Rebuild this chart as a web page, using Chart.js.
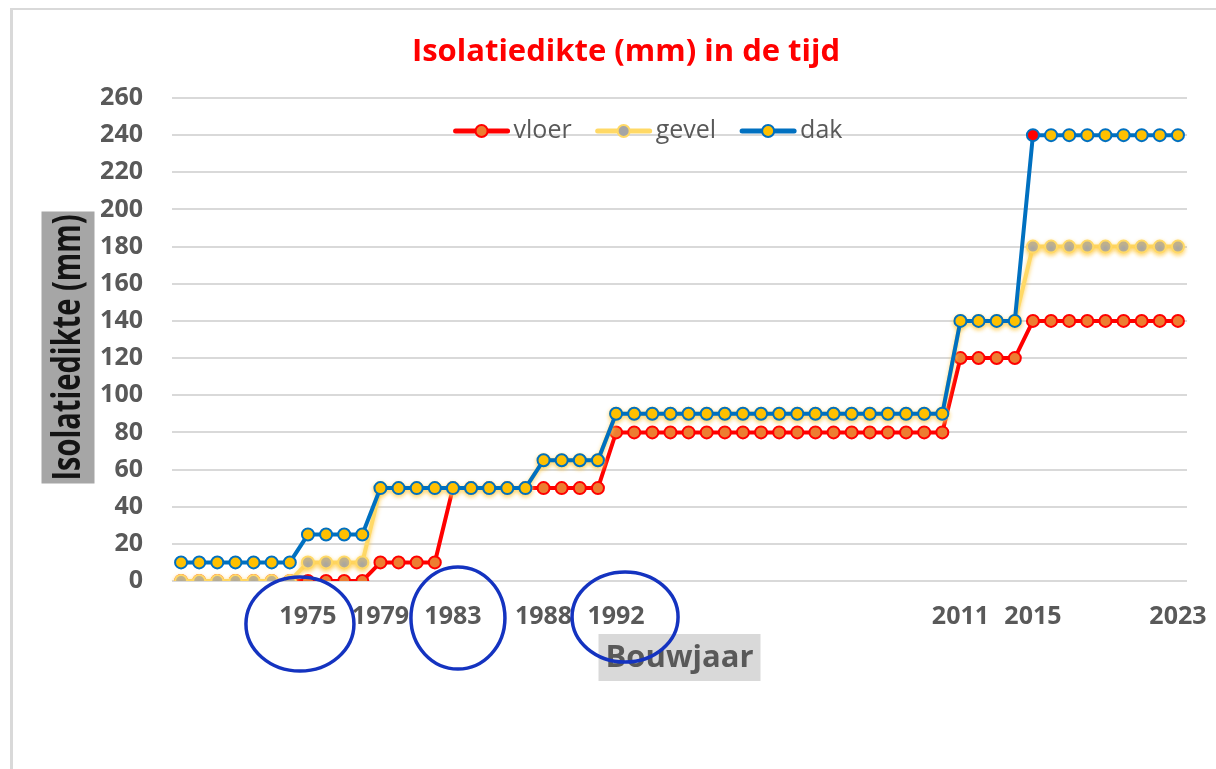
<!DOCTYPE html>
<html>
<head>
<meta charset="utf-8">
<title>Isolatiedikte (mm) in de tijd</title>
<script src="https://cdn.jsdelivr.net/npm/chart.js@4.4.1/dist/chart.umd.min.js"></script>
<style>
  html, body { margin: 0; padding: 0; background: #fff; overflow: hidden; }
  #frame { position: absolute; left: 10px; top: 8px; width: 1300px; height: 800px;
           border-left: 3px solid #d9d9d9; border-top: 2px solid #d9d9d9; }
  #c { position: absolute; left: 0; top: 0; }
</style>
</head>
<body>
<div id="frame"></div>
<canvas id="c" width="1216" height="769"></canvas>
<script>
// bouwjaar (categories)
const years = [
  1968, 1969, 1970, 1971, 1972, 1973, 1974, 1975, 1976, 1977,
  1978, 1979, 1980, 1981, 1982, 1983, 1984, 1985, 1986, 1987,
  1988, 1989, 1990, 1991, 1992, 1993, 1994, 1995, 1996, 1997,
  1998, 1999, 2000, 2001, 2002, 2003, 2004, 2005, 2006, 2007,
  2008, 2009, 2010, 2011, 2012, 2013, 2014, 2015, 2016, 2017,
  2018, 2019, 2020, 2021, 2022, 2023
];
// only these years get a label on the x axis
const tickYears = [1975, 1979, 1983, 1988, 1992, 2011, 2015, 2023];
const circledYears = [1975, 1983, 1992];

// isolatiedikte in mm
const vloer = [
  0, 0, 0, 0, 0, 0, 0, 0, 0, 0,
  0, 10, 10, 10, 10, 50, 50, 50, 50, 50,
  50, 50, 50, 50, 80, 80, 80, 80, 80, 80,
  80, 80, 80, 80, 80, 80, 80, 80, 80, 80,
  80, 80, 80, 120, 120, 120, 120, 140, 140, 140,
  140, 140, 140, 140, 140, 140
];
const gevel = [
  0, 0, 0, 0, 0, 0, 0, 10, 10, 10,
  10, 50, 50, 50, 50, 50, 50, 50, 50, 50,
  65, 65, 65, 65, 90, 90, 90, 90, 90, 90,
  90, 90, 90, 90, 90, 90, 90, 90, 90, 90,
  90, 90, 90, 140, 140, 140, 140, 180, 180, 180,
  180, 180, 180, 180, 180, 180
];
const dak = [
  10, 10, 10, 10, 10, 10, 10, 25, 25, 25,
  25, 50, 50, 50, 50, 50, 50, 50, 50, 50,
  65, 65, 65, 65, 90, 90, 90, 90, 90, 90,
  90, 90, 90, 90, 90, 90, 90, 90, 90, 90,
  90, 90, 90, 140, 140, 140, 140, 240, 240, 240,
  240, 240, 240, 240, 240, 240
];

const yTicks = { min: 0, max: 260, step: 20 };

const GREY_TXT = "#595959";

// titles, legend and the hand drawn circles
const decor = {
  id: "decor",
  beforeDatasetDraw(chart, args) {
    if (args.index === 1) {
      const ctx = chart.ctx;
      ctx.save();
      ctx.shadowColor = "rgba(255, 205, 80, 0.85)";
      ctx.shadowBlur = 4;
      ctx.shadowOffsetY = 2;
    }
  },
  afterDatasetDraw(chart, args) {
    if (args.index === 1) chart.ctx.restore();
  },
  afterDraw(chart) {
    const ctx = chart.ctx;
    const a = chart.chartArea;
    const xs = chart.scales.x;

    // chart title
    ctx.save();
    ctx.fillStyle = "#ff0000";
    ctx.font = "bold 31px 'Open Sans'";
    ctx.textAlign = "center";
    ctx.textBaseline = "alphabetic";
    ctx.fillText("Isolatiedikte (mm) in de tijd", 626, 61);
    ctx.restore();

    // y axis title with grey box (text squeezed, the original font is narrow)
    ctx.save();
    ctx.translate(68, (a.top + a.bottom) / 2 + 8);
    ctx.rotate(-Math.PI / 2);
    ctx.font = "bold 40px 'Open Sans'";
    const yt = "Isolatiedikte (mm)";
    const sq = 266 / ctx.measureText(yt).width;
    ctx.fillStyle = "#a6a6a6";
    ctx.fillRect(-136, -26.5, 272, 53);
    ctx.scale(sq, 1);
    ctx.fillStyle = "#141414";
    ctx.textAlign = "center";
    ctx.textBaseline = "middle";
    ctx.fillText(yt, 0, 1);
    ctx.restore();

    // x axis title with grey box
    ctx.save();
    const cx = (a.left + a.right) / 2;
    ctx.fillStyle = "#d9d9d9";
    ctx.fillRect(cx - 81, a.bottom + 53, 162, 47);
    ctx.fillStyle = GREY_TXT;
    ctx.font = "bold 31px 'Open Sans'";
    ctx.textAlign = "center";
    ctx.textBaseline = "middle";
    ctx.fillText("Bouwjaar", cx, a.bottom + 77);
    ctx.restore();

    // legend, inside the plot
    ctx.save();
    ctx.font = "25px 'Open Sans'";
    const lineLen = 56, gapTxt = 4, itemGap = 24;
    const items = chart.data.datasets.map(ds => ({ ds, tw: ctx.measureText(ds.label).width }));
    const total = items.reduce((s, it) => s + lineLen + gapTxt + it.tw, 0) + itemGap * (items.length - 1);
    let x = 648 - total / 2;
    const ly = 131;
    items.forEach(({ ds, tw }) => {
      ctx.strokeStyle = ds.borderColor;
      ctx.lineWidth = 5;
      ctx.lineCap = "round";
      ctx.beginPath();
      ctx.moveTo(x + 2, ly);
      ctx.lineTo(x + lineLen - 2, ly);
      ctx.stroke();
      ctx.beginPath();
      ctx.arc(x + lineLen / 2, ly, 6, 0, Math.PI * 2);
      ctx.fillStyle = ds.legendFill;
      ctx.fill();
      ctx.lineWidth = 2;
      ctx.strokeStyle = ds.pointBorderColor;
      ctx.stroke();
      ctx.fillStyle = GREY_TXT;
      ctx.textAlign = "left";
      ctx.textBaseline = "middle";
      ctx.fillText(ds.label, x + lineLen + gapTxt, ly);
      x += lineLen + gapTxt + tw + itemGap;
    });
    ctx.restore();

    // hand drawn blue circles round some years
    const rings = { 1975: [-8, 43, 54, 47], 1983: [5, 37, 47, 51], 1992: [9, 36, 53, 45] };
    ctx.save();
    ctx.strokeStyle = "#1433c0";
    ctx.lineWidth = 3.5;
    circledYears.forEach(yr => {
      const r = rings[yr];
      const px = xs.getPixelForValue(years.indexOf(yr));
      ctx.beginPath();
      ctx.ellipse(px + r[0], a.bottom + r[1], r[2], r[3], 0, 0, Math.PI * 2);
      ctx.stroke();
    });
    ctx.restore();
  }
};

const pointStyle = (line, fill, border) => ({
  borderColor: line,
  backgroundColor: fill,
  pointBackgroundColor: fill,
  pointBorderColor: border,
  legendFill: fill,
  borderWidth: 4,
  pointRadius: 6,
  pointHoverRadius: 6,
  pointBorderWidth: 2,
  tension: 0
});

new Chart(document.getElementById("c"), {
  type: "line",
  data: {
    labels: years,
    datasets: [
      Object.assign({ label: "vloer", data: vloer, order: 3 }, pointStyle("#ff0000", "#ed7d31", "#ff0000")),
      Object.assign({ label: "gevel", data: gevel, order: 2 }, pointStyle("#ffd966", "#a5a5a5", "#ffd966")),
      Object.assign({ label: "dak", data: dak, order: 1 }, pointStyle("#0070c0", "#ffc000", "#0070c0"), {
        // the 2015 point shows up red in the original
        pointBackgroundColor: ctx => years[ctx.dataIndex] === 2015 ? "#ff0000" : "#ffc000"
      })
    ]
  },
  options: {
    responsive: false,
    animation: false,
    devicePixelRatio: 1,
    layout: { padding: { top: 98, right: 29, left: 0, bottom: 0 } },
    plugins: {
      legend: { display: false },
      title: { display: false },
      tooltip: { enabled: false }
    },
    scales: {
      x: {
        type: "category",
        offset: true,
        grid: { display: false },
        border: { display: false },
        ticks: {
          autoSkip: false,
          maxRotation: 0,
          minRotation: 0,
          padding: 13,
          color: GREY_TXT,
          font: { family: "'Open Sans'", size: 25, weight: "bold" },
          callback: function (value) {
            const yr = this.getLabelForValue(value);
            return tickYears.includes(Number(yr)) ? String(yr) : "";
          }
        },
        afterFit: s => {
          s.height = 188;
          s.paddingLeft = 0;
          s.paddingRight = 0;
        }
      },
      y: {
        min: yTicks.min,
        max: yTicks.max,
        grid: { color: "#d9d9d9", lineWidth: 2, drawTicks: false },
        border: { display: false },
        ticks: {
          stepSize: yTicks.step,
          padding: 29,
          color: GREY_TXT,
          font: { family: "'Open Sans'", size: 25, weight: "bold" }
        },
        afterFit: s => { s.width = 172; }
      }
    }
  },
  plugins: [decor]
});
</script>
</body>
</html>
